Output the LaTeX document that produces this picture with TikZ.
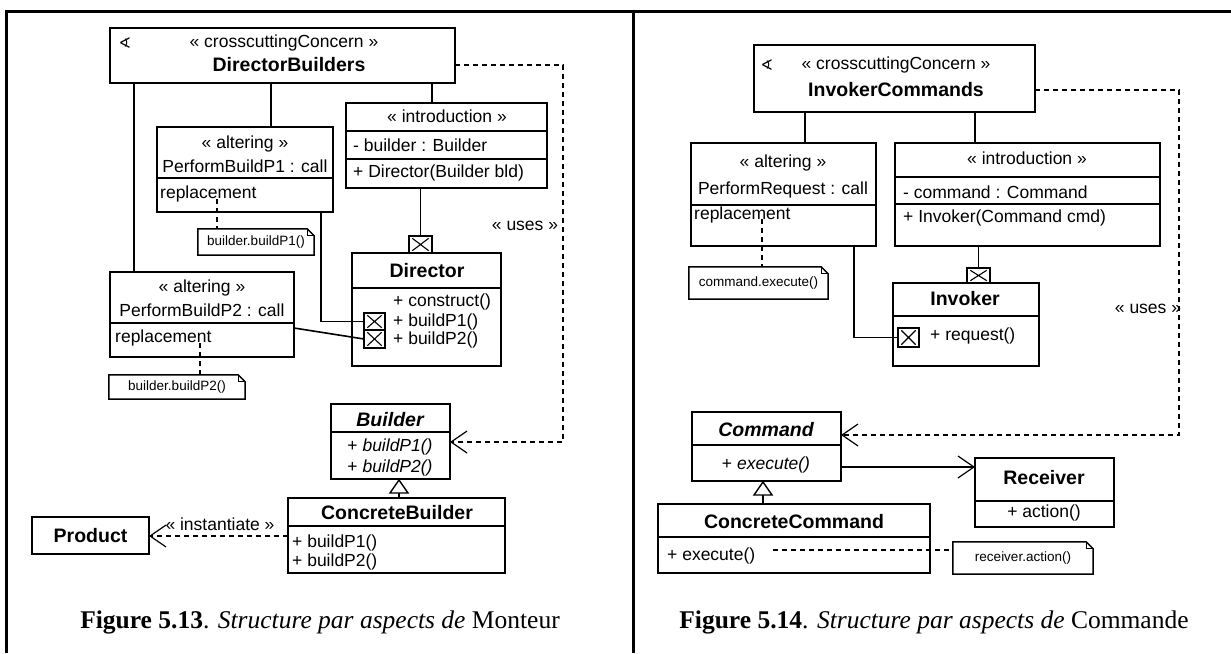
\documentclass[tikz,border=0pt]{standalone}
\usepackage{fontspec}
\setmainfont{Liberation Serif}
\setsansfont{Liberation Sans}
\newfontfamily\symfont{DejaVu Sans}
\usetikzlibrary{arrows.meta,calc}
\tikzset{
  box/.style={draw, line width=1.8pt, inner sep=0, outer sep=0, rectangle, fill=white},
  ln/.style={line width=1.6pt},
  dsh/.style={line width=1.2pt, dash pattern=on 5pt off 4pt},
  notel/.style={line width=1.5pt, line join=miter},
  t/.style={font=\sffamily\fontsize{17.5}{20}\selectfont, inner sep=0},
  tb/.style={font=\sffamily\bfseries\fontsize{19.5}{22}\selectfont, inner sep=0},
  tn/.style={font=\sffamily\fontsize{13.5}{16}\selectfont, inner sep=0},
  sym/.style={font=\symfont\fontsize{15}{18}\selectfont, inner sep=0},
  captxt/.style={font=\rmfamily\fontsize{25.5}{30}\selectfont, inner sep=0, anchor=base},
  barb/.style={-{Straight Barb[length=16pt,width=22pt,line width=1.2pt]}},
  tri/.style={line width=1.4pt, fill=white, line join=miter}
}
\newcommand{\umlbox}[5]{\node[box, minimum width={#4-#2}, minimum height={#5-#3}] (#1) at ({(#2+#4)/2},{(#3+#5)/2}) {};}
\newcommand{\umldiv}[2]{\draw[line width=1.8pt] (#1.west |- 0,#2) -- (#1.east |- 0,#2);}
\newcommand{\umlx}[5]{\node[draw, line width=1.4pt, inner sep=0, minimum width={#4-#2}, minimum height={#5-#3}, fill=white] (#1) at ({(#2+#4)/2},{(#3+#5)/2}) {};
  \draw[line width=1.1pt] ([shift={(4pt,3pt)}]#1.south west) -- ([shift={(-4pt,-3pt)}]#1.north east)
        ([shift={(4pt,-3pt)}]#1.north west) -- ([shift={(-4pt,3pt)}]#1.south east);}
\newcommand{\umlnote}[6]{\node[inner sep=0, minimum width={#4-#2}, minimum height={#5-#3}] (#1) at ({(#2+#4)/2},{(#3+#5)/2}) {};
  \draw[notel] (#1.south west) -- (#1.north west) -- ([xshift=-7pt]#1.north east) -- ([yshift=-7pt]#1.north east) -- (#1.south east) -- cycle;
  \draw[line width=0.8pt] ([xshift=-7pt]#1.north east) -- ([xshift=-7pt,yshift=-7pt]#1.north east) -- ([yshift=-7pt]#1.north east);
  \node[tn] (#1t) at (#1.center) {#6};}
\begin{document}
\begin{tikzpicture}[x=1pt,y=-1pt]
\useasboundingbox (0,0) rectangle (1231,653);
% frame
\coordinate (fa) at (6.5,653);
\coordinate (fb) at (6.5,11);
\coordinate (fc) at (1231,11);
\coordinate (fd) at (633,11);
\coordinate (fe) at (633,653);
\draw[line width=3pt] (fa) -- (fb) -- (fc);
\draw[line width=3pt] (fd) -- (fe);

%%%%%%%%%%%%%%%% LEFT PANEL
\umlbox{cc1}{110}{28}{455}{83}
\node[sym] (cc1s) at (125,43) {∢};
\node[t] (cc1a) at (284,43) {« crosscuttingConcern »};
\node[tb] (cc1b) at (289,65) {DirectorBuilders};

\umlbox{in1}{346}{103}{547}{188}
\umldiv{in1}{131}\umldiv{in1}{159}
\node[t] (in1a) at (447,116) {« introduction »};
\node[t, anchor=west] (in1b) at (353,145) {- builder : Builder};
\node[t, anchor=west] (in1c) at (353,173) {+ Director(Builder bld)};

\umlbox{al1}{157}{127}{333}{212}
\umldiv{al1}{178}
\node[t] (al1a) at (245,144) {« altering »};
\node[t] (al1b) at (245,166) {PerformBuildP1 : call};
\node[t, anchor=west] (al1c) at (160,194) {replacement};

\umlnote{nt1}{198}{229}{314}{255}{builder.buildP1()}

\umlbox{dir}{352}{253}{501}{366}
\umldiv{dir}{288}
\node[tb] (dirn) at (427,271) {Director};
\node[t, anchor=west] (dirm1) at (393,302) {+ construct()};
\node[t, anchor=west] (dirm2) at (393,322) {+ buildP1()};
\node[t, anchor=west] (dirm3) at (393,340) {+ buildP2()};

\umlbox{al2}{110}{272}{294}{357}
\umldiv{al2}{323}
\node[t] (al2a) at (202,288) {« altering »};
\node[t] (al2b) at (202,310) {PerformBuildP2 : call};
\node[t, anchor=west] (al2c) at (115,338) {replacement};

\umlnote{nt2}{109}{375}{245}{399}{builder.buildP2()}

\umlbox{bld}{331}{404}{450}{479}
\umldiv{bld}{432}
\node[tb] (bldn) at (390,420) {\itshape Builder};
\node[t] (bldm1) at (390,447) {+ \textit{buildP1()}};
\node[t] (bldm2) at (390,468) {+ \textit{buildP2()}};

\umlbox{cb}{288}{498}{505}{573}
\umldiv{cb}{526}
\node[tb] (cbn) at (397,513) {ConcreteBuilder};
\node[t, anchor=west] (cbm1) at (292,543) {+ buildP1()};
\node[t, anchor=west] (cbm2) at (292,562) {+ buildP2()};

\umlbox{prod}{32}{517}{149}{554}
\node[tb] (prodn) at (90.5,536) {Product};

% left connectors
\draw[ln] (cc1.south -| 134,0) -- (al2.north -| 134,0);
\draw[ln] (cc1.south -| 271,0) -- (al1.north -| 271,0);
\draw[ln] (cc1.south -| 432,0) -- (in1.north -| 432,0);
\draw[ln] (in1.south -| 420.5,0) -- (420.5,236);
\draw[ln] (al1.south -| 321,0) |- (364,321.5);
\draw[ln] (al2.east |- 0,328) -- (364,339);
\umlx{xd}{409}{236}{432}{253}
\umlx{xb1}{364}{313}{385}{330}
\umlx{xb2}{364}{330}{385}{348}
\coordinate (r1) at (217,199);
\draw[dsh] (r1) -- (nt1.north -| r1);
\coordinate (r2) at (200,343);
\draw[dsh] (r2) -- (nt2.north -| r2);
\coordinate (u1) at (563,65);
\draw[dsh, barb] (cc1.east |- u1) -- (u1) |- (bld.east |- 0,442);
\node[t] (uses1) at (525,226) {« uses »};
\coordinate (g1) at (399,480);
\draw[ln] (cb.north -| g1) -- ([yshift=-12pt]g1);
\draw[tri] (g1) -- ++(-9,13) -- ++(18,0) -- cycle;
\draw[dsh, barb] (cb.west |- 0,536) -- (prod.east |- 0,536);
\node[t] (inst) at (220,524) {« instantiate »};

\node[captxt] (cap1) at (320,628) {\textbf{Figure 5.13}. \textit{Structure par aspects de} Monteur};

%%%%%%%%%%%%%%%% RIGHT PANEL
\umlbox{cc2}{754}{45}{1035}{112}
\node[sym] (cc2s) at (767,65) {∢};
\node[t] (cc2a) at (896,65) {« crosscuttingConcern »};
\node[tb] (cc2b) at (896,90) {InvokerCommands};

\umlbox{al3}{691}{143}{876}{246}
\umldiv{al3}{205}
\node[t] (al3a) at (783,163) {« altering »};
\node[t] (al3b) at (783,190) {PerformRequest : call};
\node[t, anchor=west] (al3c) at (694,215) {replacement};

\umlbox{in2}{895}{143}{1160}{246}
\umldiv{in2}{177}\umldiv{in2}{204}
\node[t] (in2a) at (1027,158) {« introduction »};
\node[t, anchor=west] (in2b) at (903,192) {- command : Command};
\node[t, anchor=west] (in2c) at (903,218) {+ Invoker(Command cmd)};

\umlnote{nt3}{689}{267}{828}{299}{command.execute()}

\umlbox{inv}{893}{283}{1039}{366}
\umldiv{inv}{316}
\node[tb] (invn) at (965,299) {Invoker};
\node[t, anchor=west] (invm) at (930,336) {+ request()};

\umlbox{cmd}{692}{412}{841}{481}
\umldiv{cmd}{445}
\node[tb] (cmdn) at (766,430) {\itshape Command};
\node[t] (cmdm) at (766,465) {+ \textit{execute()}};

\umlbox{rec}{975}{458}{1114}{527}
\umldiv{rec}{501}
\node[tb] (recn) at (1044,478) {Receiver};
\node[t] (recm) at (1044,513) {+ action()};

\umlbox{ccm}{658}{504}{930}{573}
\umldiv{ccm}{537}
\node[tb] (ccmn) at (794,522) {ConcreteCommand};
\node[t, anchor=west] (ccmm) at (667,556) {+ execute()};

\umlnote{nt4}{953}{542}{1093}{574}{receiver.action()}

% right connectors
\draw[ln] (cc2.south -| 805,0) -- (al3.north -| 805,0);
\draw[ln] (cc2.south -| 975,0) -- (in2.north -| 975,0);
\draw[ln] (in2.south -| 978.5,0) -- (978.5,268);
\draw[ln] (al3.south -| 854,0) |- (898,337.5);
\umlx{xi}{967}{268}{990}{283}
\umlx{xr}{898}{328}{919}{347}
\coordinate (r3) at (762,219);
\draw[dsh] (r3) -- (nt3.north -| r3);
\coordinate (u2) at (1179,90);
\draw[dsh, barb] (cc2.east |- u2) -- (u2) |- (cmd.east |- 0,435);
\node[t] (uses2) at (1148,309) {« uses »};
\draw[line width=1.2pt, barb] (cmd.east |- 0,467) -- (rec.west |- 0,467);
\coordinate (g2) at (763,482);
\draw[ln] (ccm.north -| g2) -- ([yshift=-12pt]g2);
\draw[tri] (g2) -- ++(-9,13) -- ++(18,0) -- cycle;
\coordinate (r4) at (773,550);
\draw[dsh] (r4) -- (nt4.west |- r4);

\node[captxt] (cap2) at (934,628) {\textbf{Figure 5.14}. \textit{Structure par aspects de} Commande};
\end{tikzpicture}
\end{document}
